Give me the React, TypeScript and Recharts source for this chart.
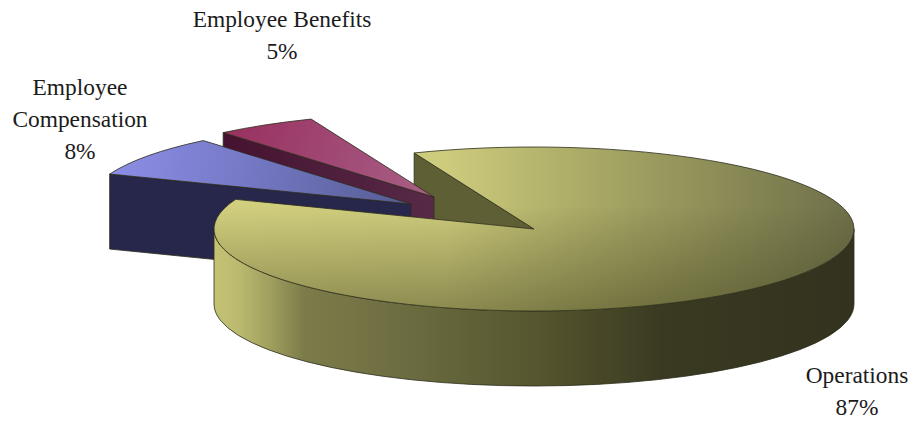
import { PieChart, Pie } from 'recharts';

const categories = ['Employee Benefits', 'Employee Compensation', 'Operations'];
const shares = [5, 8, 87];

const pieData = categories.map((name, i) => ({ name, value: shares[i] }));

// 3D look: the circle is flattened into an ellipse and extruded downwards
const TILT = 82 / 320;
const DEPTH = 75;
const CX = 534;
const CY = 229;

// how far each exploded slice is pulled out, and its fills
const sliceStyle: Record<string, any> = {
  'Employee Benefits': { dx: -100, dy: -32, grow: 1.025, top: 'url(#benefitsTop)', wall: 'url(#benefitsWall)' },
  'Employee Compensation': { dx: -123, dy: -25, grow: 1.01, top: 'url(#compTop)', wall: '#27274c' },
  Operations: { dx: 0, dy: 0, grow: 1, top: 'url(#opsTop)', wall: 'url(#opsWall)' },
};

// label anchors: centre x, first baseline y, line breaks
const labelLayout: Record<string, any> = {
  'Employee Benefits': { x: 282, y: 27, lines: ['Employee Benefits'] },
  'Employee Compensation': { x: 80, y: 95, lines: ['Employee', 'Compensation'] },
  Operations: { x: 857, y: 383, lines: ['Operations'] },
};

const LINE_STEP = 32;
const OUTLINE = '#2c2c1c';

function ellipsePoint(rx: number, angle: number, ox: number, oy: number) {
  const rad = (angle * Math.PI) / 180;
  return {
    x: CX + ox + rx * Math.cos(rad),
    y: CY + oy - rx * TILT * Math.sin(rad),
  };
}

function arcTo(rx: number, to: { x: number; y: number }, large: boolean, sweep: number) {
  return `A ${rx} ${rx * TILT} 0 ${large ? 1 : 0} ${sweep} ${to.x} ${to.y}`;
}

// top face and front wall of a slice
function SliceShape(props: any) {
  const { name, outerRadius, startAngle, endAngle } = props;
  const style = sliceStyle[name];
  const rx = outerRadius * style.grow;
  const apex = { x: CX + style.dx, y: CY + style.dy };
  const start = ellipsePoint(rx, startAngle, style.dx, style.dy);
  const end = ellipsePoint(rx, endAngle, style.dx, style.dy);
  const topPath = `M ${apex.x} ${apex.y} L ${start.x} ${start.y} ${arcTo(rx, end, endAngle - startAngle > 180, 0)} Z`;

  const isMain = endAngle - startAngle > 180;
  let wallPath: string;
  if (isMain) {
    // only the rim between the two extremes of the ellipse faces the viewer
    const left = ellipsePoint(rx, 180, style.dx, style.dy);
    const right = ellipsePoint(rx, 360, style.dx, style.dy);
    wallPath = `M ${left.x} ${left.y} ${arcTo(rx, right, false, 0)} L ${right.x} ${right.y + DEPTH} ${arcTo(rx, { x: left.x, y: left.y + DEPTH }, false, 1)} Z`;
  } else {
    // exploded slices show the cut face on their lower edge
    wallPath = `M ${end.x} ${end.y} L ${apex.x} ${apex.y} L ${apex.x} ${apex.y + DEPTH} L ${end.x} ${end.y + DEPTH} Z`;
  }

  return (
    <g>
      <path d={wallPath} fill={style.wall} stroke={OUTLINE} strokeWidth={0.8} strokeLinejoin="round" />
      <path d={topPath} fill={style.top} stroke={OUTLINE} strokeWidth={0.8} strokeLinejoin="round" />
      {isMain && <path d={topPath} fill="url(#opsShade)" stroke="none" />}
    </g>
  );
}

// inner cut face of the big slice, sits behind the exploded slices
function BackFace(props: any) {
  const { name, outerRadius, endAngle } = props;
  if (name !== 'Operations') return <g />;
  const rim = ellipsePoint(outerRadius, endAngle, 0, 0);
  const d = `M ${rim.x} ${rim.y} L ${CX} ${CY} L ${CX} ${CY + DEPTH} L ${rim.x} ${rim.y + DEPTH} Z`;
  return <path d={d} fill="#5f5f36" stroke={OUTLINE} strokeWidth={0.8} />;
}

function sliceLabel(props: any) {
  const { name, value } = props;
  const layout = labelLayout[name];
  return (
    <text
      x={layout.x}
      y={layout.y}
      textAnchor="middle"
      fontFamily="'Liberation Serif', serif"
      fontSize={23.4}
      fill="#1b1b1b"
    >
      {layout.lines.map((line: string, i: number) => (
        <tspan key={line} x={layout.x} y={layout.y + i * LINE_STEP}>
          {line}
        </tspan>
      ))}
      <tspan x={layout.x} y={layout.y + layout.lines.length * LINE_STEP}>
        {`${value}%`}
      </tspan>
    </text>
  );
}

export default function App() {
  return (
    <div style={{ position: 'absolute', left: 0, top: 0, background: '#fff' }}>
      <PieChart width={916} height={423} margin={{ top: 0, right: 0, bottom: 0, left: 0 }}>
        <defs>
          <linearGradient id="opsTop" gradientUnits="userSpaceOnUse" x1="214" y1="0" x2="854" y2="0">
            <stop offset="0%" stopColor="#d2d07e" />
            <stop offset="36%" stopColor="#cdcb7c" />
            <stop offset="62%" stopColor="#a4a463" />
            <stop offset="100%" stopColor="#6e6f49" />
          </linearGradient>
          <linearGradient id="opsShade" gradientUnits="userSpaceOnUse" x1="0" y1="205" x2="0" y2="312">
            <stop offset="0%" stopColor="#3a3a18" stopOpacity={0} />
            <stop offset="100%" stopColor="#3a3a18" stopOpacity={0.45} />
          </linearGradient>
          <linearGradient id="opsWall" gradientUnits="userSpaceOnUse" x1="214" y1="0" x2="854" y2="0">
            <stop offset="0%" stopColor="#c4c374" />
            <stop offset="4%" stopColor="#bab96f" />
            <stop offset="9%" stopColor="#9e9e5e" />
            <stop offset="14%" stopColor="#7c7c4a" />
            <stop offset="30%" stopColor="#6c6c41" />
            <stop offset="50%" stopColor="#56562f" />
            <stop offset="70%" stopColor="#3a3a22" />
            <stop offset="100%" stopColor="#33321e" />
          </linearGradient>
          <linearGradient id="compTop" gradientUnits="userSpaceOnUse" x1="120" y1="150" x2="410" y2="205">
            <stop offset="0%" stopColor="#8b8de4" />
            <stop offset="45%" stopColor="#7478c4" />
            <stop offset="100%" stopColor="#565c92" />
          </linearGradient>
          <linearGradient id="benefitsTop" gradientUnits="userSpaceOnUse" x1="225" y1="130" x2="430" y2="195">
            <stop offset="0%" stopColor="#98305f" />
            <stop offset="60%" stopColor="#a24c78" />
            <stop offset="100%" stopColor="#a76084" />
          </linearGradient>
          <linearGradient id="benefitsWall" gradientUnits="userSpaceOnUse" x1="221" y1="0" x2="434" y2="0">
            <stop offset="0%" stopColor="#45122f" />
            <stop offset="100%" stopColor="#572a48" />
          </linearGradient>
        </defs>
        <Pie
          data={pieData}
          dataKey="value"
          nameKey="name"
          cx={CX}
          cy={CY}
          outerRadius={320}
          startAngle={112}
          endAngle={472}
          shape={BackFace}
          stroke="none"
          isAnimationActive={false}
        />
        <Pie
          data={pieData}
          dataKey="value"
          nameKey="name"
          cx={CX}
          cy={CY}
          outerRadius={320}
          startAngle={112}
          endAngle={472}
          shape={SliceShape}
          label={sliceLabel}
          labelLine={false}
          stroke="none"
          isAnimationActive={false}
        />
      </PieChart>
    </div>
  );
}
